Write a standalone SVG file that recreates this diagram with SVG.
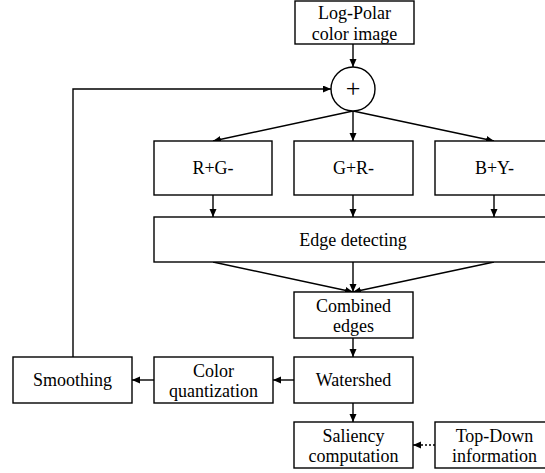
<svg xmlns="http://www.w3.org/2000/svg" width="545" height="473" viewBox="0 0 545 473">
<defs>
<marker id="ah" markerUnits="userSpaceOnUse" markerWidth="9" markerHeight="8" refX="8" refY="3.5" orient="auto">
<path d="M0,0 L8,3.5 L0,7 z" fill="#000"/>
</marker>
<style>
.box{fill:#fff;stroke:#000;stroke-width:1.4}
.t{font-family:"Liberation Serif","Times New Roman",serif;font-size:18px;fill:#000;text-anchor:middle}
.c{fill:none;stroke:#000;stroke-width:1.4;marker-end:url(#ah)}
</style>
</defs>
<rect width="545" height="473" fill="#fff"/>
<g id="connectors">
<line class="c" x1="353" y1="44" x2="353" y2="67"/>
<polyline class="c" points="73,357 73,89 331,89"/>
<line class="c" x1="353" y1="111" x2="213" y2="141"/>
<line class="c" x1="353" y1="111" x2="353" y2="141"/>
<line class="c" x1="353" y1="111" x2="494" y2="141"/>
<line class="c" x1="213" y1="195" x2="213" y2="217"/>
<line class="c" x1="353" y1="195" x2="353" y2="217"/>
<line class="c" x1="494" y1="195" x2="494" y2="217"/>
<line class="c" x1="213" y1="262" x2="353" y2="292"/>
<line class="c" x1="353" y1="262" x2="353" y2="292"/>
<line class="c" x1="494" y1="262" x2="353" y2="292"/>
<line class="c" x1="353" y1="338" x2="353" y2="357"/>
<line class="c" x1="294" y1="380" x2="273" y2="380"/>
<line class="c" x1="154" y1="380" x2="132" y2="380"/>
<line class="c" x1="353" y1="403" x2="353" y2="422"/>
<line class="c" x1="435" y1="445" x2="413" y2="445" stroke-dasharray="2,2"/>
</g>
<g id="logpolar"><rect class="box" x="295" y="1" width="119" height="43"/><text class="t" x="354.5" y="19">Log-Polar</text><text class="t" x="354.5" y="40">color image</text></g>
<g id="sum"><circle cx="353" cy="89" r="22" fill="#fff" stroke="#000" stroke-width="1.4"/><text class="t" x="353" y="97" style="font-size:26px">+</text></g>
<g id="rg"><rect class="box" x="154" y="141" width="118" height="54"/><text class="t" x="213" y="174">R+G-</text></g>
<g id="gr"><rect class="box" x="294" y="141" width="119" height="54"/><text class="t" x="353.5" y="174">G+R-</text></g>
<g id="by"><rect class="box" x="435" y="141" width="119" height="54"/><text class="t" x="494.5" y="174">B+Y-</text></g>
<g id="edge"><rect class="box" x="154" y="217" width="400" height="45"/><text class="t" x="353" y="246">Edge detecting</text></g>
<g id="combined"><rect class="box" x="294" y="292" width="119" height="46"/><text class="t" x="353.5" y="312">Combined</text><text class="t" x="353.5" y="332">edges</text></g>
<g id="watershed"><rect class="box" x="294" y="357" width="119" height="46"/><text class="t" x="353.5" y="386">Watershed</text></g>
<g id="colorq"><rect class="box" x="154" y="357" width="119" height="46"/><text class="t" x="213.5" y="377">Color</text><text class="t" x="213.5" y="397">quantization</text></g>
<g id="smoothing"><rect class="box" x="13" y="357" width="119" height="46"/><text class="t" x="72.5" y="386">Smoothing</text></g>
<g id="saliency"><rect class="box" x="294" y="422" width="119" height="46"/><text class="t" x="353.5" y="442">Saliency</text><text class="t" x="353.5" y="462">computation</text></g>
<g id="topdown"><rect class="box" x="435" y="422" width="119" height="46"/><text class="t" x="494.5" y="442">Top-Down</text><text class="t" x="494.5" y="462">information</text></g>
</svg>
